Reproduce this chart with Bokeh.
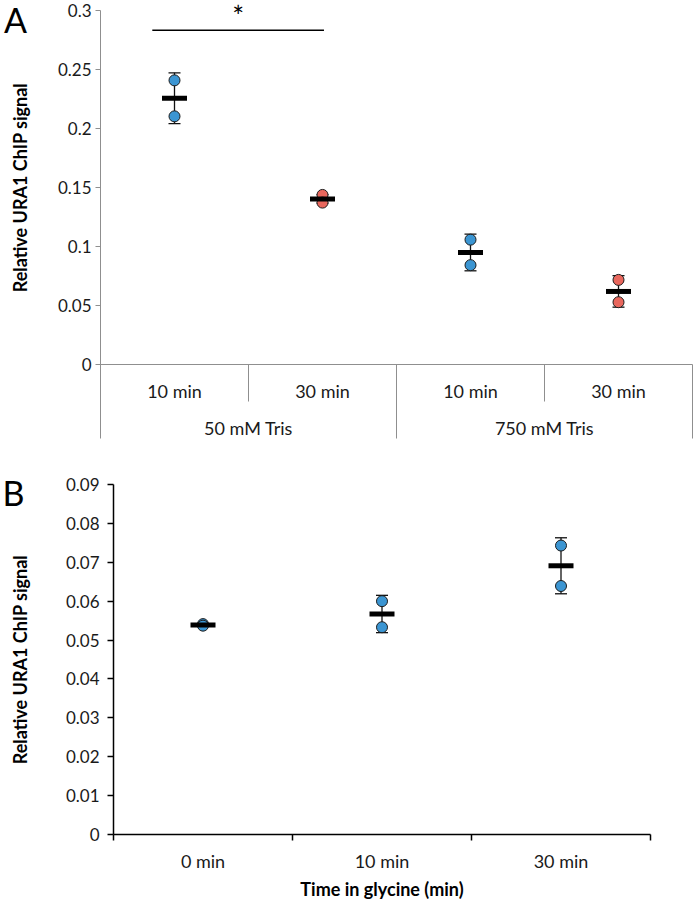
import math
from bokeh.plotting import figure
from bokeh.layouts import column
from bokeh.models import Range1d, FixedTicker, Whisker, ColumnDataSource, TeeHead
from bokeh.core.properties import value
from bokeh.embed import file_html
from bokeh.resources import INLINE

# ---------------- data: panel A ----------------
a_groups = ["50 mM Tris", "750 mM Tris"]
a_times = ["10 min", "30 min", "10 min", "30 min"]
a_group_of = [0, 0, 1, 1]
a_rep1 = [0.2408, 0.1437, 0.1058, 0.0717]
a_rep2 = [0.2103, 0.1372, 0.0842, 0.0528]
a_mean = [0.2256, 0.1403, 0.0950, 0.0619]
a_err_low = [0.2042, 0.1368, 0.0794, 0.0486]
a_err_high = [0.2472, 0.1440, 0.1105, 0.0753]
a_colors = ["#3b95d2", "#e8675d", "#3b95d2", "#e8675d"]
a_yticks = [0, 0.05, 0.1, 0.15, 0.2, 0.25, 0.3]
a_ytick_labels = ["0", "0.05", "0.1", "0.15", "0.2", "0.25", "0.3"]
a_sig_x = [0.35, 1.51]
a_sig_y = 0.2833
a_sig_text = "*"

# ---------------- data: panel B ----------------
b_times = ["0 min", "10 min", "30 min"]
b_rep1 = [0.0541, 0.0600, 0.0743]
b_rep2 = [0.0537, 0.0533, 0.0639]
b_mean = [0.0539, 0.0567, 0.0691]
b_err_low = [0.0536, 0.0519, 0.0619]
b_err_high = [0.0542, 0.0615, 0.0763]
b_color = "#3b95d2"
b_yticks = [0, 0.01, 0.02, 0.03, 0.04, 0.05, 0.06, 0.07, 0.08, 0.09]
b_ytick_labels = ["0", "0.01", "0.02", "0.03", "0.04", "0.05", "0.06", "0.07", "0.08", "0.09"]

ylabel_text = "Relative URA1 ChIP signal"
b_xlabel_text = "Time in glycine (min)"
panel_letters = ["A", "B"]

FONT = "Lato"
TXT = "#1a1a1a"
GREY = "#8f8f8f"

# ================= PANEL A =================
A_W, A_H = 693, 442
A_CAT_PX = 148.0      # px per category
A_AXIS_X = 100        # pixel x of the y axis
A_ZERO = 364          # pixel y of value 0
A_TOP_TICK = 10       # pixel y of the top tick
a_scale = (A_ZERO - A_TOP_TICK) / a_yticks[-1]
a_x0 = -A_AXIS_X / A_CAT_PX
a_x1 = (A_W - A_AXIS_X) / A_CAT_PX
a_y1 = a_yticks[-1] + A_TOP_TICK / a_scale
a_y0 = -(A_H - A_ZERO) / a_scale

def ady(px):
    return -px / a_scale

def apx_x(px):
    return (px - A_AXIS_X) / A_CAT_PX

def apx_y(py):
    return (A_ZERO - py) / a_scale

pA = figure(width=A_W, height=A_H, output_backend="svg", toolbar_location=None,
            x_range=Range1d(a_x0, a_x1), y_range=Range1d(a_y0, a_y1),
            x_axis_location=None, y_axis_location="left",
            min_border_left=0, min_border_right=0, min_border_top=0, min_border_bottom=0)
pA.frame_align = False
pA.outline_line_color = None
pA.xgrid.visible = False
pA.ygrid.visible = False
ya = pA.yaxis[0]
ya.fixed_location = 0
ya.ticker = FixedTicker(ticks=a_yticks)
ya.major_label_overrides = dict(zip(a_yticks, a_ytick_labels))
ya.axis_line_color = None
ya.major_tick_out = 5
ya.major_tick_in = 0
ya.major_tick_line_color = GREY
ya.minor_tick_line_color = None
ya.major_label_standoff = 4
ya.major_label_text_font = FONT
ya.major_label_text_font_size = "17px"
ya.major_label_text_color = TXT

n_a = len(a_times)
a_x = [i + 0.5 for i in range(n_a)]
inner_bottom = ady(37)
outer_bottom = ady(74)

# axis frame lines
pA.segment(x0=[0], y0=[a_yticks[-1]], x1=[0], y1=[outer_bottom], line_color=GREY, line_width=1)
pA.segment(x0=[0], y0=[0], x1=[n_a], y1=[0], line_color=GREY, line_width=1)
div_x, div_y = [], []
for i in range(1, n_a + 1):
    div_x.append(i)
    if i == n_a or a_group_of[i] != a_group_of[i - 1]:
        div_y.append(outer_bottom)
    else:
        div_y.append(inner_bottom)
pA.segment(x0=div_x, y0=[0] * len(div_x), x1=div_x, y1=div_y, line_color=GREY, line_width=1)

# category labels
pA.text(x=a_x, y=[ady(26)] * n_a, text=a_times, text_align="center", text_baseline="middle",
        text_font=value(FONT), text_font_size="18px", text_color=TXT)
g_x = []
for g in range(len(a_groups)):
    idx = [i for i in range(n_a) if a_group_of[i] == g]
    g_x.append((min(idx) + max(idx) + 1) / 2.0)
pA.text(x=g_x, y=[ady(63)] * len(g_x), text=a_groups, text_align="center", text_baseline="middle",
        text_font=value(FONT), text_font_size="18px", text_color=TXT)

# error bars
srcA = ColumnDataSource(dict(x=a_x, lo=a_err_low, hi=a_err_high))
pA.add_layout(Whisker(source=srcA, base="x", lower="lo", upper="hi", dimension="height",
                      line_color="#111111", line_width=1.3,
                      upper_head=TeeHead(size=12, line_color="#111111", line_width=1.3),
                      lower_head=TeeHead(size=12, line_color="#111111", line_width=1.3)))
# points
pA.scatter(x=a_x, y=a_rep1, size=11, fill_color=a_colors, line_color="#1c1c1c", line_width=1)
pA.scatter(x=a_x, y=a_rep2, size=11, fill_color=a_colors, line_color="#1c1c1c", line_width=1)
# means
pA.rect(x=a_x, y=a_mean, width=25, height=5, width_units="screen", height_units="screen",
        fill_color="black", line_color=None)
# significance
pA.segment(x0=[a_sig_x[0]], y0=[a_sig_y], x1=[a_sig_x[1]], y1=[a_sig_y], line_color="black", line_width=1.5)
pA.text(x=[(a_sig_x[0] + a_sig_x[1]) / 2], y=[a_sig_y + 14 / a_scale], text=[a_sig_text],
        text_align="center", text_baseline="middle", text_font=value(FONT),
        text_font_size="28px", text_color="black")

# panel letter and y title
pA.text(x=[apx_x(15)], y=[apx_y(19)], text=[panel_letters[0]], text_align="center",
        text_baseline="middle", text_font=value(FONT), text_font_size="34px", text_color="black")
pA.text(x=[apx_x(19)], y=[a_yticks[-1] / 2], text=[ylabel_text], angle=math.pi / 2,
        text_align="center", text_baseline="middle", text_font=value(FONT),
        text_font_style="bold", text_font_size="18px", text_color="black")

# ================= PANEL B =================
B_W, B_H = 693, 458
B_AXIS_X = 113        # pixel x of y axis
B_CAT_PX = 179.0      # px per category
B_TOP_TICK = 42       # pixel y (in figure) of top tick
B_ZERO = 392          # pixel y (in figure) of 0
n_b = len(b_times)
b_x = [i + 0.5 for i in range(n_b)]
b_scale = (B_ZERO - B_TOP_TICK) / b_yticks[-1]

def bpx_x(px):
    return (px - B_AXIS_X) / B_CAT_PX

def bpx_y(py):
    return (B_ZERO - py) / b_scale

pB = figure(width=B_W, height=B_H, output_backend="svg", toolbar_location=None,
            x_range=Range1d(bpx_x(0), bpx_x(B_W)), y_range=Range1d(bpx_y(B_H), bpx_y(0)),
            min_border_left=0, min_border_right=0, min_border_top=0, min_border_bottom=0)
pB.frame_align = False
pB.outline_line_color = None
pB.xgrid.visible = False
pB.ygrid.visible = False
yb = pB.yaxis[0]
yb.fixed_location = 0
yb.ticker = FixedTicker(ticks=b_yticks)
yb.major_label_overrides = dict(zip(b_yticks, b_ytick_labels))
yb.axis_line_color = None
yb.major_tick_out = 6
yb.major_tick_in = 0
yb.major_tick_line_color = "black"
yb.major_tick_line_width = 1.5
yb.minor_tick_line_color = None
yb.major_label_standoff = 8
yb.major_label_text_font = FONT
yb.major_label_text_font_size = "17px"
yb.major_label_text_color = TXT

xb = pB.xaxis[0]
xb.fixed_location = 0
xb.ticker = FixedTicker(ticks=b_x, minor_ticks=list(range(n_b + 1)))
xb.major_label_overrides = dict(zip(b_x, b_times))
xb.axis_line_color = None
xb.major_tick_out = 0
xb.major_tick_in = 0
xb.minor_tick_out = 6
xb.minor_tick_in = 0
xb.minor_tick_line_color = "black"
xb.minor_tick_line_width = 1.5
xb.major_label_standoff = 9
xb.major_label_text_font = FONT
xb.major_label_text_font_size = "18px"
xb.major_label_text_color = TXT

# axis lines
pB.segment(x0=[0], y0=[0], x1=[0], y1=[b_yticks[-1]], line_color="black", line_width=1.5)
pB.segment(x0=[0], y0=[0], x1=[n_b], y1=[0], line_color="black", line_width=1.5)

srcB = ColumnDataSource(dict(x=b_x, lo=b_err_low, hi=b_err_high))
pB.add_layout(Whisker(source=srcB, base="x", lower="lo", upper="hi", dimension="height",
                      line_color="#111111", line_width=1.3,
                      upper_head=TeeHead(size=12, line_color="#111111", line_width=1.3),
                      lower_head=TeeHead(size=12, line_color="#111111", line_width=1.3)))
pB.scatter(x=b_x, y=b_rep1, size=11, fill_color=b_color, line_color="#1c1c1c", line_width=1)
pB.scatter(x=b_x, y=b_rep2, size=11, fill_color=b_color, line_color="#1c1c1c", line_width=1)
pB.rect(x=b_x, y=b_mean, width=25, height=5, width_units="screen", height_units="screen",
        fill_color="black", line_color=None)

pB.text(x=[bpx_x(13)], y=[bpx_y(50)], text=[panel_letters[1]], text_align="center",
        text_baseline="middle", text_font=value(FONT), text_font_size="34px", text_color="black")
pB.text(x=[bpx_x(19)], y=[b_yticks[-1] / 2], text=[ylabel_text], angle=math.pi / 2,
        text_align="center", text_baseline="middle", text_font=value(FONT),
        text_font_style="bold", text_font_size="18px", text_color="black")
pB.text(x=[n_b / 2.0], y=[bpx_y(446)], text=[b_xlabel_text], text_align="center",
        text_baseline="middle", text_font=value(FONT), text_font_style="bold",
        text_font_size="18px", text_color="black")

layout = column(pA, pB)
open("out.html", "w").write(file_html(layout, INLINE))
